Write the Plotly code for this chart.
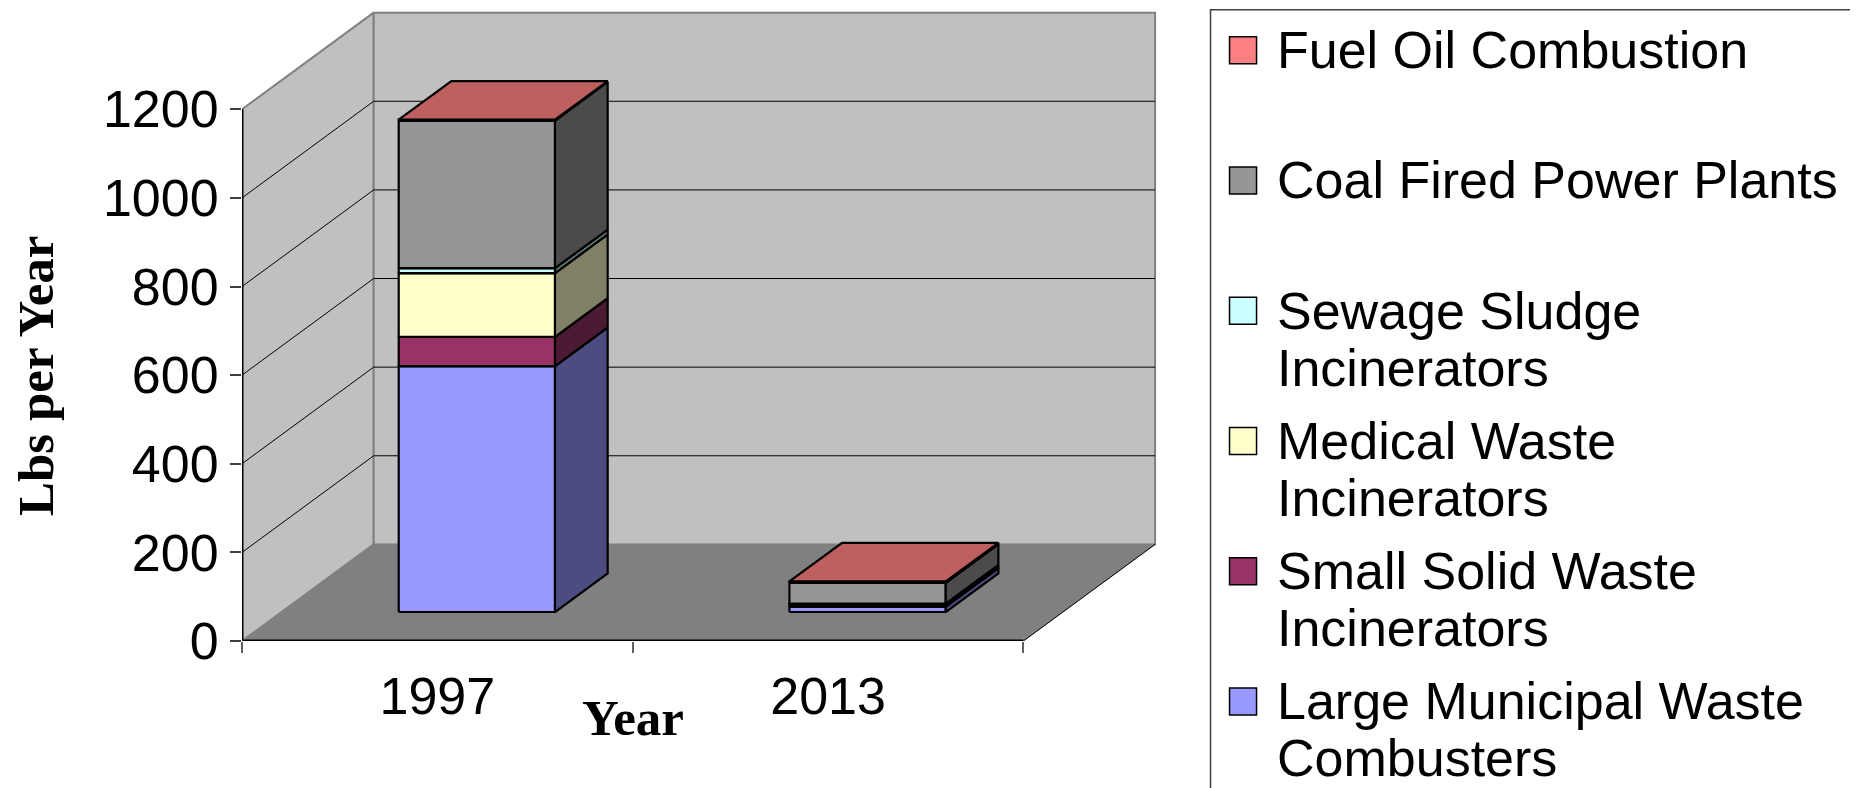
import plotly.graph_objects as go

# DATA (lbs per year)
YEARS = ["1997", "2013"]
SOURCES = [
    "Large Municipal Waste<br>Combusters",
    "Small Solid Waste<br>Incinerators",
    "Medical Waste<br>Incinerators",
    "Sewage Sludge<br>Incinerators",
    "Coal Fired Power Plants",
    "Fuel Oil Combustion",
]
LARGE_MUNICIPAL = [555, 12]
SMALL_SOLID = [66, 3]
MEDICAL = [144, 3]
SEWAGE = [11, 1]
COAL = [333, 47]
FUEL_OIL = [2, 3]
SERIES = [LARGE_MUNICIPAL, SMALL_SOLID, MEDICAL, SEWAGE, COAL, FUEL_OIL]
COLORS = ["#9999FF", "#993366", "#FFFFCC", "#CCFFFF", "#969696", "#FF8080"]
Y_TICKS = [0, 200, 400, 600, 800, 1000, 1200]

# 3D GEOMETRY (Excel-style oblique projection)
# the page body has an 8px margin, so the figure is drawn 8px in from the window edge
OFF = 8
W, H = 1858 - OFF, 788 - OFF
X0_PX, Y0_PX = 242 - OFF, 641 - OFF   # data origin (front-left floor corner)
PX_PER_CAT = 390.5
PX_PER_UNIT = 0.4433
DX, DY = 0.337, 218              # depth offset of the back wall, in data units
YTOP = Y_TICKS[-1]
BAR_W = 0.4
F0, F1 = 0.3, 0.7                # bar depth span (fraction of the floor depth)

X_MAX = len(YEARS) + DX + 0.01
Y_MAX = YTOP + DY + 6
plot_w = X_MAX * PX_PER_CAT
plot_h = Y_MAX * PX_PER_UNIT

FONT = "Liberation Sans, Arial, sans-serif"
SERIF = "Liberation Serif, Times New Roman, serif"


def paper_x(px):
    # px is a window pixel (as measured on the reference)
    return (px - OFF - X0_PX) / plot_w


def paper_y(py):
    return (Y0_PX - (py - OFF)) / plot_h


def shade(hex_color, k):
    r, g, b = (int(hex_color[i:i + 2], 16) for i in (1, 3, 5))
    return f"rgb({round(r * k)},{round(g * k)},{round(b * k)})"


def poly(xs, ys, fill, line_color="black", width=2.2):
    return go.Scatter(
        x=list(xs) + [xs[0]], y=list(ys) + [ys[0]],
        mode="lines", fill="toself", fillcolor=fill,
        line=dict(color=line_color, width=width),
        hoverinfo="skip", showlegend=False,
    )


def seg(xs, ys, color="black", width=1):
    return go.Scatter(x=xs, y=ys, mode="lines", line=dict(color=color, width=width),
                      hoverinfo="skip", showlegend=False)


fig = go.Figure()
n = len(YEARS)

# Walls and floor
fig.add_trace(poly([0, 0, DX, DX], [0, YTOP, YTOP + DY, DY], "#C0C0C0", "#808080", 2))
fig.add_trace(poly([DX, DX, n + DX, n + DX], [DY, YTOP + DY, YTOP + DY, DY], "#C0C0C0", "#808080", 2))
fig.add_trace(poly([0, n, n + DX, DX], [0, 0, DY, DY], "#808080", "#808080", 0.5))
fig.add_trace(seg([n, n + DX], [0, DY], "black", 1))

# Gridlines on the left and back walls
gx, gy = [], []
for v in Y_TICKS[1:-1]:
    gx += [0, DX, n + DX, None]
    gy += [v, v + DY, v + DY, None]
fig.add_trace(seg(gx, gy, "black", 1))

# Stacked 3D bars
for j in range(n):
    x0 = j + 0.5 - BAR_W / 2
    x1 = j + 0.5 + BAR_W / 2
    fx0, fy0 = F0 * DX, F0 * DY
    fx1, fy1 = F1 * DX, F1 * DY
    base = 0
    for vals, col in zip(SERIES, COLORS):
        top = base + vals[j]
        # front face
        fig.add_trace(poly(
            [x0 + fx0, x1 + fx0, x1 + fx0, x0 + fx0],
            [base + fy0, base + fy0, top + fy0, top + fy0], col))
        # side face
        fig.add_trace(poly(
            [x1 + fx0, x1 + fx1, x1 + fx1, x1 + fx0],
            [base + fy0, base + fy1, top + fy1, top + fy0], shade(col, 0.5)))
        # top face
        fig.add_trace(poly(
            [x0 + fx0, x1 + fx0, x1 + fx1, x0 + fx1],
            [top + fy0, top + fy0, top + fy1, top + fy1], shade(col, 0.75)))
        base = top

# Axis lines (front edges)
fig.add_trace(seg([0, 0], [0, YTOP], "black", 3))
fig.add_trace(seg([0, n], [0, 0], "black", 3))

# Hand-built legend (Excel spacing)
shapes = [dict(
    type="rect", xref="paper", yref="paper",
    x0=paper_x(1210), x1=paper_x(1852), y0=paper_y(830), y1=paper_y(9.5),
    line=dict(color="#404040", width=1.5), fillcolor="rgba(0,0,0,0)",
)]
annotations = []
for k, (name, col) in enumerate(zip(SOURCES[::-1], COLORS[::-1])):
    yc = 50 + 130.3 * k
    shapes.append(dict(
        type="rect", xref="paper", yref="paper",
        x0=paper_x(1229), x1=paper_x(1256), y0=paper_y(yc + 13.5), y1=paper_y(yc - 13.5),
        line=dict(color="black", width=1.5), fillcolor=col,
    ))
    for i, line_txt in enumerate(name.split("<br>")):
        annotations.append(dict(
            xref="paper", yref="paper", x=paper_x(1274), y=paper_y(yc + 57 * i),
            text=line_txt, showarrow=False, xanchor="left", yanchor="middle",
            font=dict(family=FONT, size=52, color="black"),
        ))

# Axis titles
annotations.append(dict(
    xref="paper", yref="y", x=paper_x(36), y=YTOP / 2,
    text="<b>Lbs per Year</b>", showarrow=False, textangle=-90,
    xanchor="center", yanchor="middle",
    font=dict(family=SERIF, size=51, color="black"),
))
annotations.append(dict(
    xref="x", yref="paper", x=n / 2, y=paper_y(718),
    text="<b>Year</b>", showarrow=False, xanchor="center", yanchor="middle",
    font=dict(family=SERIF, size=51, color="black"),
))

fig.update_layout(
    width=W, height=H,
    margin=dict(l=X0_PX, r=W - X0_PX - plot_w, t=Y0_PX - plot_h, b=H - Y0_PX, pad=0),
    paper_bgcolor="white",
    plot_bgcolor="white",
    showlegend=False,
    shapes=shapes,
    annotations=annotations,
    xaxis=dict(
        range=[0, X_MAX], showgrid=False, zeroline=False, showline=False,
        tickvals=[j + 0.5 for j in range(n)], ticktext=YEARS,
        ticks="", ticklabelstandoff=20,
        minor=dict(tickvals=list(range(n + 1)), ticks="outside", ticklen=11,
                   tickcolor="#606060", tickwidth=1.5),
        tickfont=dict(family=FONT, size=52, color="black"),
        fixedrange=True,
    ),
    yaxis=dict(
        range=[0, Y_MAX], showgrid=False, zeroline=False, showline=False,
        tickvals=Y_TICKS, ticks="outside", ticklen=11, tickcolor="#404040", tickwidth=1.5,
        ticklabelstandoff=1,
        tickfont=dict(family=FONT, size=52, color="black"),
        fixedrange=True,
    ),
)

fig.write_html("out.html")
